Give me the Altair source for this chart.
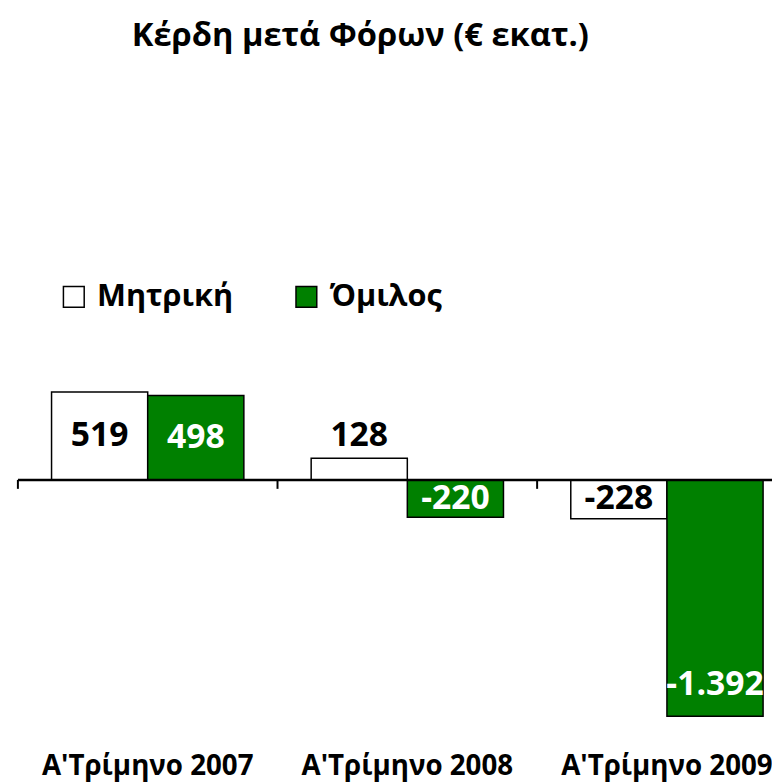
import altair as alt
import pandas as pd

categories = ["Α'Τρίμηνο 2007", "Α'Τρίμηνο 2008", "Α'Τρίμηνο 2009"]
series = ["Μητρική", "Όμιλος"]
parent_values = [519, 128, -228]
group_values = [498, -220, -1392]
# Excel-like label placement per bar (parent, group) for each quarter
label_modes = [["center", "center"], ["outside_end", "center"], ["center", "inside_end"]]

rows = []
for i, cat in enumerate(categories):
    for j, (s, vals) in enumerate(zip(series, [parent_values, group_values])):
        v = vals[i]
        rows.append({
            "cat": cat,
            "series": s,
            "value": v,
            "half": v / 2,
            "label": f"{v:,}".replace(",", "."),
            "mode": label_modes[i][j],
        })
df = pd.DataFrame(rows)

FONT = "Open Sans"
GREEN = "#008000"

x_enc = alt.X("cat:N", sort=categories,
              scale=alt.Scale(range=[0, 787], paddingInner=0, paddingOuter=0),
              axis=alt.Axis(title=None, orient="bottom", domain=False, ticks=False,
                            labelAngle=0, labelFont=FONT, labelFontSize=28,
                            labelFontWeight="bold", labelColor="black",
                            labelPadding=35, labelLimit=400))
xoff = alt.XOffset("series:N", sort=series,
                   scale=alt.Scale(paddingOuter=0.35, paddingInner=0))
y_scale = alt.Scale(domain=[-1400, 600], nice=False, zero=True)

base = alt.Chart(df)

bars = base.mark_bar(stroke="black", strokeWidth=1.5).encode(
    x=x_enc,
    xOffset=xoff,
    y=alt.Y("value:Q", scale=y_scale, axis=None),
    color=alt.Color("series:N", sort=series,
                    scale=alt.Scale(domain=series, range=["white", GREEN]),
                    legend=alt.Legend(title=None, orient="none", legendX=41, legendY=-98,
                                      direction="horizontal", symbolType="square",
                                      symbolSize=441, symbolStrokeColor="black",
                                      symbolStrokeWidth=1.5, symbolOpacity=1,
                                      labelFont=FONT, labelFontSize=31,
                                      labelFontWeight="bold", labelColor="black",
                                      labelOffset=8, columnPadding=58, labelLimit=400)),
)

text_fill = alt.Fill("series:N", scale=alt.Scale(domain=series, range=["black", "white"]),
                     legend=None)

center_txt = base.transform_filter(alt.datum.mode == "center").mark_text(
    font=FONT, fontSize=34, fontWeight="bold", baseline="middle"
).encode(x=x_enc, xOffset=xoff, y=alt.Y("half:Q", scale=y_scale, axis=None),
         text="label:N", fill=text_fill)

out_txt = base.transform_filter(alt.datum.mode == "outside_end").mark_text(
    font=FONT, fontSize=34, fontWeight="bold", baseline="alphabetic", dy=-12
).encode(x=x_enc, xOffset=xoff, y=alt.Y("value:Q", scale=y_scale, axis=None),
         text="label:N", fill=text_fill)

in_txt = base.transform_filter(alt.datum.mode == "inside_end").mark_text(
    font=FONT, fontSize=34, fontWeight="bold", baseline="alphabetic", dy=-22
).encode(x=x_enc, xOffset=xoff, y=alt.Y("value:Q", scale=y_scale, axis=None),
         text="label:N", fill=text_fill)

zero_rule = alt.Chart(pd.DataFrame({"z": [0]})).mark_rule(
    color="black", strokeWidth=2.5
).encode(y=alt.Y("z:Q", scale=y_scale, axis=None))

ticks = alt.Chart(pd.DataFrame({"cat": categories, "y0": [0] * 3, "y1": [-52] * 3})).mark_rule(
    color="black", strokeWidth=2
).encode(x=alt.X("cat:N", sort=categories, bandPosition=0),
         y=alt.Y("y0:Q", scale=y_scale, axis=None), y2="y1:Q")

chart = alt.layer(bars, center_txt, out_txt, in_txt, zero_rule, ticks).properties(
    width=762, height=343,
    autosize=alt.AutoSizeParams(type="none"),
    padding={"left": 10, "top": 370, "right": 0, "bottom": 63},
    title=alt.TitleParams("Κέρδη μετά Φόρων (€ εκατ.)", font=FONT, fontSize=33,
                          fontWeight="bold", color="black", anchor="middle",
                          frame="group", dx=-35, offset=205, baseline="alphabetic"),
).configure_view(stroke=None)

chart.save("out.html", embed_options={"renderer": "svg", "actions": False})
